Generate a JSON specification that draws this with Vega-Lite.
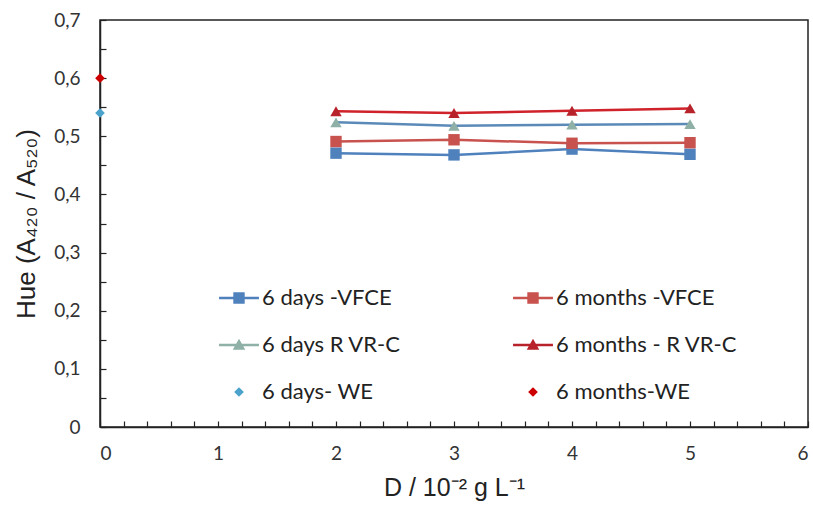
{
  "$schema": "https://vega.github.io/schema/vega-lite/v6.json",
  "width": 708,
  "height": 407,
  "autosize": {"type": "none"},
  "padding": {"left": 100, "top": 20, "right": 5, "bottom": 83},
  "background": "white",
  "config": {
    "view": {"stroke": "#222", "strokeWidth": 1.5},
    "font": "Lato",
    "axis": {"grid": false, "domainColor": "#222", "domainWidth": 1.5, "tickColor": "#222", "tickWidth": 1.2, "labelFont": "Lato", "titleFont": "Liberation Sans", "labelColor": "#333", "titleColor": "#222", "labelFontWeight": "normal", "titleFontWeight": "normal"}
  },
  "data": {
    "values": [
      {"series": "6 days -VFCE", "D": 2, "hue": 0.471},
      {"series": "6 days -VFCE", "D": 3, "hue": 0.468},
      {"series": "6 days -VFCE", "D": 4, "hue": 0.478},
      {"series": "6 days -VFCE", "D": 5, "hue": 0.469},
      {"series": "6 months -VFCE", "D": 2, "hue": 0.491},
      {"series": "6 months -VFCE", "D": 3, "hue": 0.494},
      {"series": "6 months -VFCE", "D": 4, "hue": 0.488},
      {"series": "6 months -VFCE", "D": 5, "hue": 0.489},
      {"series": "6 days R VR-C", "D": 2, "hue": 0.524},
      {"series": "6 days R VR-C", "D": 3, "hue": 0.518},
      {"series": "6 days R VR-C", "D": 4, "hue": 0.520},
      {"series": "6 days R VR-C", "D": 5, "hue": 0.521},
      {"series": "6 months - R VR-C", "D": 2, "hue": 0.543},
      {"series": "6 months - R VR-C", "D": 3, "hue": 0.540},
      {"series": "6 months - R VR-C", "D": 4, "hue": 0.544},
      {"series": "6 months - R VR-C", "D": 5, "hue": 0.548},
      {"series": "6 days- WE", "D": 0, "hue": 0.54},
      {"series": "6 months-WE", "D": 0, "hue": 0.6}
    ]
  },
  "encoding": {
    "x": {
      "field": "D", "type": "quantitative",
      "scale": {"domain": [0, 6], "nice": false, "zero": false},
      "axis": {
        "title": "D / 10⁻² g L⁻¹",
        "titleFontSize": 25, "titlePadding": 12,
        "values": [0,0.2,0.4,0.6,0.8,1,1.2,1.4,1.6,1.8,2,2.2,2.4,2.6,2.8,3,3.2,3.4,3.6,3.8,4,4.2,4.4,4.6,4.8,5,5.2,5.4,5.6,5.8,6],
        "labelExpr": "round(datum.value*10) % 10 == 0 ? format(datum.value, 'd') : ''",
        "labelOverlap": false,
        "labelFontSize": 19,
        "tickSize": -6,
        "labelPadding": 23
      }
    },
    "y": {
      "field": "hue", "type": "quantitative",
      "scale": {"domain": [0, 0.7], "nice": false},
      "axis": {
        "title": "Hue (A₄₂₀ / A₅₂₀)",
        "titleFontSize": 26, "titlePadding": 14,
        "values": [0,0.05,0.1,0.15,0.2,0.25,0.3,0.35,0.4,0.45,0.5,0.55,0.6,0.65,0.7],
        "labelExpr": "round(datum.value*100) % 10 != 0 ? '' : (datum.value == 0 ? '0' : replace(format(datum.value, '.1f'), '.', ','))",
        "labelOverlap": false,
        "labelFontSize": 19,
        "tickSize": -6,
        "labelPadding": 26
      }
    }
  },
  "layer": [
    {
      "transform": [{"filter": "datum.series != '6 days- WE' && datum.series != '6 months-WE'"}],
      "mark": {"type": "line", "strokeWidth": 2.5},
      "encoding": {
        "stroke": {
          "field": "series", "type": "nominal",
          "scale": {"domain": ["6 days -VFCE", "6 months -VFCE", "6 days R VR-C", "6 months - R VR-C"], "range": ["#4f81bd", "#c8524e", "#5b8ab8", "#d0222a"]},
          "legend": null
        },
        "detail": {"field": "series"}
      }
    },
    {
      "transform": [{"filter": "indexof(datum.series, 'WE') >= 0"}],
      "mark": {"type": "point", "filled": true, "opacity": 1, "strokeWidth": 0, "size": 130},
      "encoding": {
        "fill": {
          "field": "series", "type": "nominal",
          "scale": {"domain": ["6 days -VFCE", "6 days R VR-C", "6 days- WE", "6 months -VFCE", "6 months - R VR-C", "6 months-WE"], "range": ["#4f81bd", "#8fb0a6", "#4ba3cc", "#c8524e", "#b8232b", "#cc0000"]},
          "legend": {
            "title": null,
            "orient": "none",
            "legendX": 128,
            "legendY": 267,
            "columns": 2,
            "direction": "vertical",
            "padding": 0,
            "columnPadding": 112,
            "rowPadding": 25,
            "symbolSize": 130,
            "symbolStrokeWidth": 0,
            "labelOffset": 12,
            "labelFontSize": 22,
            "labelFont": "Lato",
            "labelColor": "#222",
            "labelLimit": 300
          }
        },
        "shape": {
          "field": "series", "type": "nominal",
          "scale": {"domain": ["6 days -VFCE", "6 days R VR-C", "6 days- WE", "6 months -VFCE", "6 months - R VR-C", "6 months-WE"], "range": ["M-3.5,-0.2H3.5V0.2H-3.5Z M-1,-1H1V1H-1Z", "M-3.5,-0.2H3.5V0.2H-3.5Z M0,-1.1L1.1,0.85H-1.1Z", "M0,-0.85L0.85,0L0,0.85L-0.85,0Z", "M-3.5,-0.2H3.5V0.2H-3.5Z M-1,-1H1V1H-1Z", "M-3.5,-0.2H3.5V0.2H-3.5Z M0,-1.1L1.1,0.85H-1.1Z", "M0,-0.85L0.85,0L0,0.85L-0.85,0Z"]}
        }
      }
    },
    {
      "transform": [{"filter": "indexof(datum.series, 'VFCE') >= 0"}],
      "mark": {"type": "point", "filled": true, "opacity": 1, "strokeWidth": 0, "size": 130, "shape": "square"},
      "encoding": {
        "fill": {"field": "series", "type": "nominal"}
      }
    },
    {
      "transform": [{"filter": "indexof(datum.series, 'VR-C') >= 0"}],
      "mark": {"type": "point", "filled": true, "opacity": 1, "strokeWidth": 0, "size": 130, "shape": "triangle-up"},
      "encoding": {
        "fill": {"field": "series", "type": "nominal"}
      }
    }
  ]
}
